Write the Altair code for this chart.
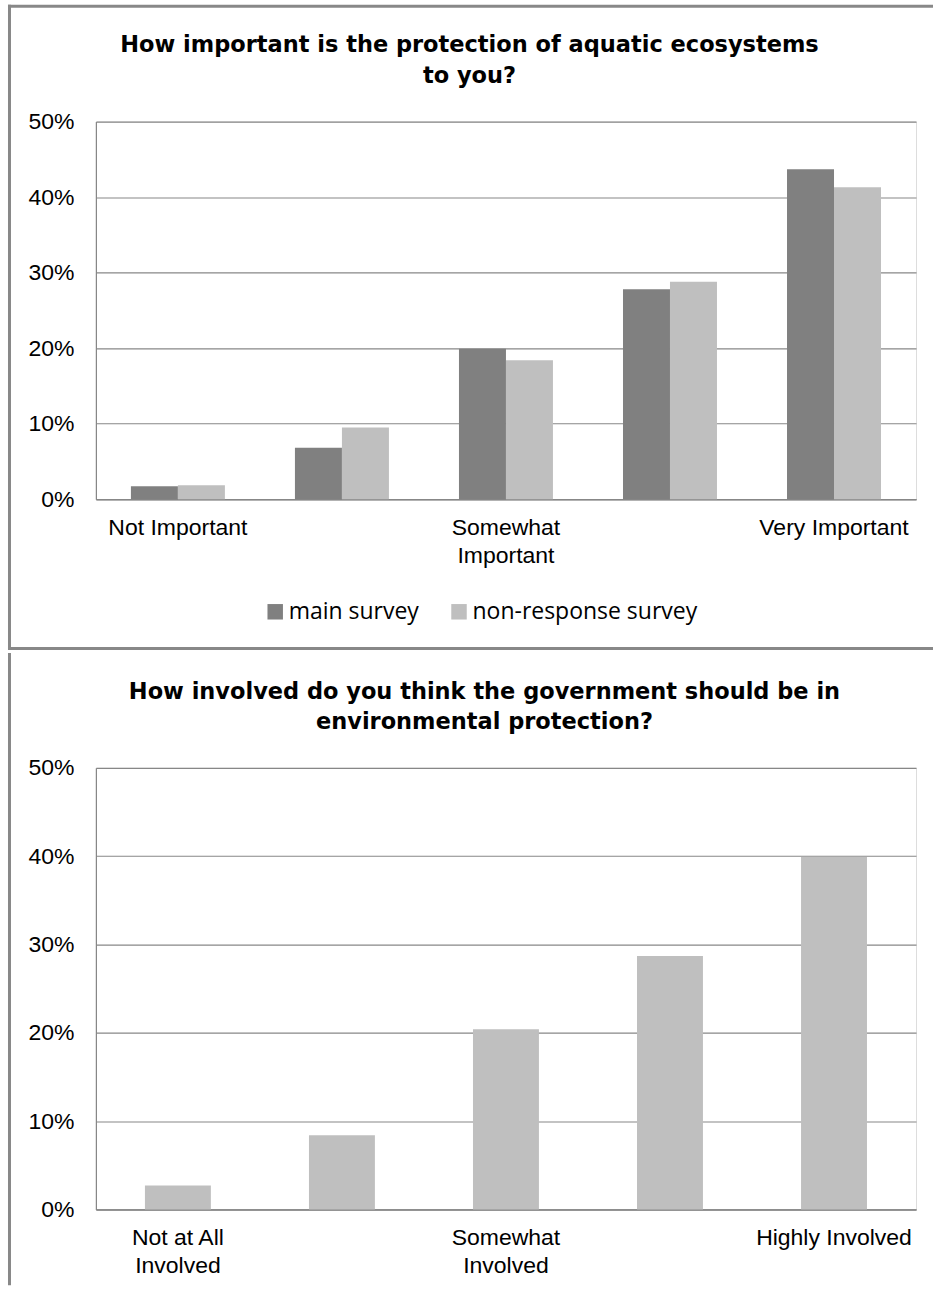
import altair as alt
import pandas as pd

# ---------------- data ----------------
top_categories = ["Not Important", "2", "Somewhat Important", "4", "Very Important"]
top_tick_labels = [["Not Important"], [""], ["Somewhat", "Important"], [""], ["Very Important"]]
series_names = ["main survey", "non-response survey"]
main_survey = [1.7, 6.8, 19.9, 27.8, 43.7]
nonresponse_survey = [1.85, 9.5, 18.4, 28.8, 41.3]

bottom_categories = ["Not at All Involved", "2", "Somewhat Involved", "4", "Highly Involved"]
bottom_tick_labels = [["Not at All", "Involved"], [""], ["Somewhat", "Involved"], [""], ["Highly Involved"]]
government_involvement = [2.7, 8.4, 20.4, 28.7, 39.9]

y_ticks = [0, 10, 20, 30, 40, 50]

top_title = ["How important is the protection of aquatic  ecosystems", "to you?"]
bottom_title = ["How involved do you think the government should be in", "environmental protection?"]

# ---------------- styles ----------------
GRID = "#878787"
FRAME = "#888888"
DARK = "#808080"
LIGHT = "#bfbfbf"
AXIS_FONT = "Liberation Sans"
TITLE_FONT = "DejaVu Sans"
W = 821
H_TOP = 378
H_BOT = 442


def label_expr(cats, labels):
    parts = []
    for c, l in zip(cats, labels):
        arr = "[" + ",".join("'" + s + "'" for s in l) + "]"
        parts.append(f"datum.value === '{c}' ? {arr} : ")
    return "".join(parts) + "''"


def x_axis(cats, labels):
    return alt.Axis(
        title=None, labelAngle=0, ticks=False, tickSize=0, grid=False,
        domainColor=GRID, domainWidth=1.5, labelFont=AXIS_FONT, labelFontSize=23,
        labelColor="#000000", labelPadding=17, labelLineHeight=28,
        labelOverlap=False, labelLimit=0, labelExpr=label_expr(cats, labels),
    )


y_axis = alt.Axis(
    title=None, values=[v / 100 for v in y_ticks], format=".0%", ticks=False, tickSize=0,
    grid=True, gridColor=GRID, gridWidth=1.2, domainColor=GRID, domainWidth=1.2,
    labelFont=AXIS_FONT, labelFontSize=23, labelColor="#000000", labelPadding=22,
)

dummy = pd.DataFrame({"k": [0]})

# ---------------- top panel ----------------
rows = []
for i, c in enumerate(top_categories):
    rows.append({"category": c, "series": series_names[0], "value": main_survey[i] / 100})
    rows.append({"category": c, "series": series_names[1], "value": nonresponse_survey[i] / 100})
df_top = pd.DataFrame(rows)

top_bars = alt.Chart(df_top).mark_bar().encode(
    x=alt.X("category:N", sort=top_categories,
            scale=alt.Scale(paddingInner=0.427, paddingOuter=0.2135),
            axis=x_axis(top_categories, top_tick_labels)),
    xOffset=alt.XOffset("series:N", sort=series_names,
                        scale=alt.Scale(paddingInner=0, paddingOuter=0)),
    y=alt.Y("value:Q", scale=alt.Scale(domain=[0, 0.5], nice=False), axis=y_axis),
    color=alt.Color("series:N", sort=series_names,
                    scale=alt.Scale(domain=series_names, range=[DARK, LIGHT]),
                    legend=alt.Legend(title=None, orient="none", legendX=168, legendY=479,
                                      direction="horizontal", symbolType="square",
                                      symbolSize=240, symbolStrokeWidth=0,
                                      labelFont="Open Sans", labelFontSize=23,
                                      labelColor="#000000", labelOffset=2, labelLimit=0,
                                      columnPadding=28, padding=0)),
)

top_title_mark = alt.Chart(dummy).mark_text(
    text=top_title, font=TITLE_FONT, fontSize=22.5, fontWeight="bold", align="center",
    baseline="alphabetic", lineHeight=31, color="#000000",
).encode(x=alt.value(374), y=alt.value(-70))

top_frame_top = alt.Chart(dummy).mark_rule(color=FRAME, strokeWidth=3).encode(
    x=alt.value(-88), x2=alt.value(838), y=alt.value(-115.5))
top_frame_left = alt.Chart(dummy).mark_rule(color=FRAME, strokeWidth=3).encode(
    x=alt.value(-86.5), y=alt.value(-117), y2=alt.value(528))
top_frame_bottom = alt.Chart(dummy).mark_rule(color=FRAME, strokeWidth=3).encode(
    x=alt.value(-88), x2=alt.value(838), y=alt.value(527.5))

top_chart = alt.layer(
    top_frame_top, top_frame_left, top_frame_bottom, top_title_mark, top_bars
).properties(width=W, height=H_TOP)

# ---------------- bottom panel ----------------
df_bot = pd.DataFrame({"category": bottom_categories,
                       "value": [v / 100 for v in government_involvement]})

bot_bars = alt.Chart(df_bot).mark_bar(color=LIGHT).encode(
    x=alt.X("category:N", sort=bottom_categories,
            scale=alt.Scale(paddingInner=0.598, paddingOuter=0.299),
            axis=x_axis(bottom_categories, bottom_tick_labels)),
    y=alt.Y("value:Q", scale=alt.Scale(domain=[0, 0.5], nice=False), axis=y_axis),
)

bot_title_mark = alt.Chart(dummy).mark_text(
    text=bottom_title, font=TITLE_FONT, fontSize=22.5, fontWeight="bold", align="center",
    baseline="alphabetic", lineHeight=30, color="#000000",
).encode(x=alt.value(389), y=alt.value(-69))

bot_frame_left = alt.Chart(dummy).mark_rule(color=FRAME, strokeWidth=3).encode(
    x=alt.value(-86.5), y=alt.value(-115), y2=alt.value(518))
bot_frame_right = alt.Chart(dummy).mark_rule(color="#ffffff", strokeWidth=0.1).encode(
    x=alt.value(838), y=alt.value(-115), y2=alt.value(-114))

bottom_chart = alt.layer(
    bot_frame_left, bot_frame_right, bot_title_mark, bot_bars
).properties(width=W, height=H_BOT)

chart = alt.vconcat(top_chart, bottom_chart, spacing=0).properties(
    padding={"left": 6, "top": 2, "right": 0, "bottom": 0}
).configure_view(strokeWidth=0).configure(background="#ffffff")

chart.save("out.html", embed_options={"renderer": "svg", "actions": False})
